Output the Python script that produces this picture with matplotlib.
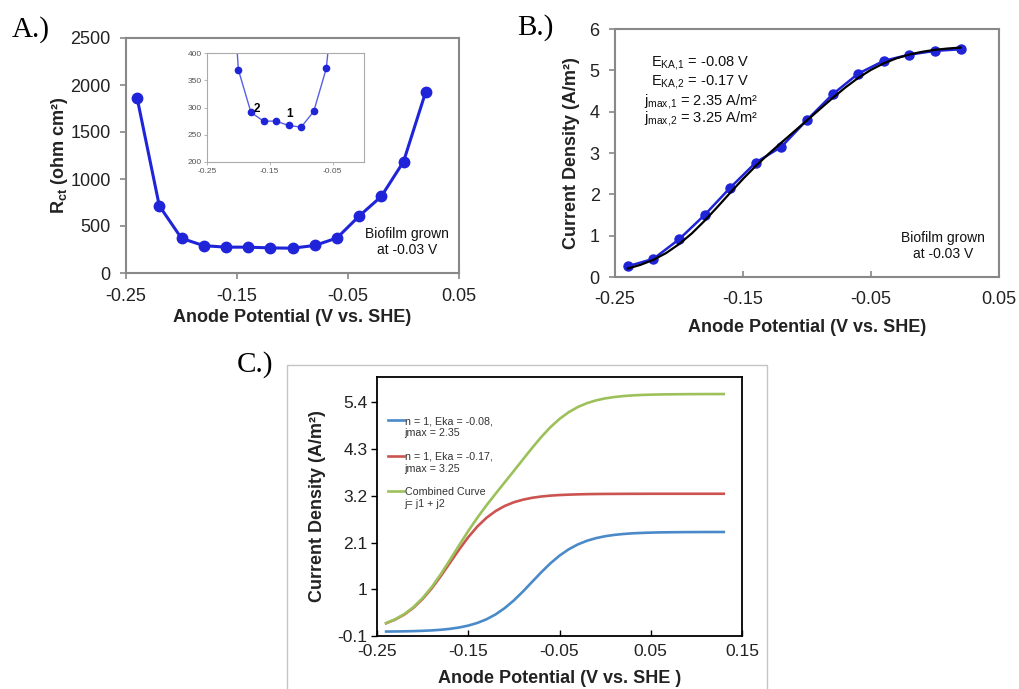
import matplotlib
matplotlib.use('Agg')
import matplotlib.pyplot as plt
from matplotlib.patches import Rectangle

plt.rcParams['font.family'] = ['Liberation Sans', 'DejaVu Sans']
plt.rcParams['mathtext.fontset'] = 'custom'
plt.rcParams['mathtext.rm'] = 'Liberation Sans'
plt.rcParams['mathtext.it'] = 'Liberation Sans:italic'
plt.rcParams['mathtext.bf'] = 'Liberation Sans:bold'

# panel A: charge transfer resistance vs anode potential
pot_a = [-0.24, -0.22, -0.20, -0.18, -0.16, -0.14, -0.12, -0.10, -0.08, -0.06, -0.04, -0.02, 0.00, 0.02]
rct = [1862, 715, 369, 291, 275, 275, 267, 264, 293, 372, 605, 815, 1184, 1927]

# panel B: measured current density and model fit
pot_b = [-0.24, -0.22, -0.20, -0.18, -0.16, -0.14, -0.12, -0.10, -0.08, -0.06, -0.04, -0.02, 0.00, 0.02]
jmeas = [0.26, 0.44, 0.91, 1.50, 2.16, 2.77, 3.15, 3.80, 4.42, 4.92, 5.23, 5.38, 5.47, 5.51]

# panel C: modelled curves
pot_c = [-0.24, -0.23, -0.22, -0.21, -0.20, -0.19, -0.18, -0.17, -0.16, -0.15,
         -0.14, -0.13, -0.12, -0.11, -0.10, -0.09, -0.08, -0.07, -0.06, -0.05,
         -0.04, -0.03, -0.02, -0.01, 0.00, 0.01, 0.02, 0.03, 0.04, 0.05,
         0.06, 0.07, 0.08, 0.09, 0.10, 0.11, 0.12, 0.13]
j1 = [0.005, 0.007, 0.010, 0.015, 0.022, 0.032, 0.047, 0.069, 0.100, 0.145,
      0.208, 0.294, 0.409, 0.558, 0.739, 0.949, 1.175, 1.401, 1.611, 1.792,
      1.941, 2.056, 2.142, 2.205, 2.250, 2.281, 2.303, 2.318, 2.328, 2.335,
      2.340, 2.343, 2.345, 2.347, 2.348, 2.349, 2.349, 2.350]
j2 = [0.200, 0.288, 0.406, 0.566, 0.772, 1.022, 1.313, 1.625, 1.937, 2.228,
      2.479, 2.684, 2.843, 2.963, 3.050, 3.111, 3.155, 3.185, 3.206, 3.220,
      3.229, 3.236, 3.241, 3.244, 3.246, 3.247, 3.248, 3.249, 3.249, 3.250,
      3.250, 3.250, 3.250, 3.250, 3.250, 3.250, 3.250, 3.250]
jsum = [0.205, 0.295, 0.416, 0.581, 0.794, 1.054, 1.360, 1.694, 2.037, 2.373,
        2.687, 2.978, 3.252, 3.521, 3.789, 4.060, 4.330, 4.586, 4.817, 5.012,
        5.170, 5.292, 5.383, 5.449, 5.496, 5.528, 5.551, 5.567, 5.577, 5.584,
        5.589, 5.592, 5.594, 5.596, 5.597, 5.598, 5.598, 5.599]
labels_c = ['n = 1, Eka = -0.08,\njmax = 2.35', 'n = 1, Eka = -0.17,\njmax = 3.25',
            'Combined Curve\nj= j1 + j2']

W, H = 1019, 689
fig = plt.figure(figsize=(W / 100, H / 100), dpi=100)

def box(l, t, r, b):
    return [l / W, (H - b) / H, (r - l) / W, (b - t) / H]

tickc = '#222222'
blue = '#1f24d8'

# ---------- A ----------
ax = fig.add_axes(box(126, 38, 459, 273))
ax.plot(pot_a, rct, '-o', color=blue, lw=2.2, ms=7.5, clip_on=False)
ax.set_xlim(-0.25, 0.05)
ax.set_ylim(0, 2500)
ax.set_xticks([-0.25, -0.15, -0.05, 0.05])
ax.set_xticklabels(['-0.25', '-0.15', '-0.05', '0.05'])
ax.set_yticks(range(0, 2501, 500))
for s in ax.spines.values():
    s.set_color('#888888')
    s.set_linewidth(1.5)
ax.tick_params(direction='out', length=4, width=1.2, color='#888888', labelsize=13,
               labelcolor=tickc, pad=7)
ax.set_xlabel('Anode Potential (V vs. SHE)', fontsize=13, fontweight='bold', color=tickc)
ax.set_ylabel(r'$\mathbf{R}_{\mathbf{ct}}$ (ohm cm²)', fontsize=13, fontweight='bold', color=tickc)
ax.xaxis.set_label_coords(0.5, -0.191)
ax.yaxis.set_label_coords(-0.201, 0.5)
ax.xaxis.label.set_va('center')
ax.yaxis.label.set_va('center')
ax.text(0.003, 331, 'Biofilm grown\nat -0.03 V', ha='center', va='center', fontsize=10,
        color='#111111', linespacing=1.2)

ins = fig.add_axes(box(207, 53, 364, 162))
ins.plot(pot_a, rct, '-', color='#5a5ee6', lw=1.0)
ins.plot(pot_a, rct, 'o', color=blue, ms=4.5)
ins.set_xlim(-0.25, 0.0)
ins.set_ylim(200, 400)
ins.set_xticks([-0.25, -0.15, -0.05])
ins.set_xticklabels(['-0.25', '-0.15', '-0.05'])
ins.set_yticks(range(200, 401, 50))
for s in ins.spines.values():
    s.set_color('#aaaaaa')
    s.set_linewidth(0.8)
ins.tick_params(direction='out', length=2, width=0.6, color='#aaaaaa', labelsize=6,
                labelcolor='#555555', pad=2)
ins.text(-0.17, 297, '2', fontsize=8.5, fontweight='bold', ha='center', va='center')
ins.text(-0.118, 288, '1', fontsize=8.5, fontweight='bold', ha='center', va='center')

# ---------- B ----------
bx = fig.add_axes(box(615, 29, 999, 277))
bx.plot(pot_b, jmeas, '-o', color=blue, lw=1.8, ms=6.5, clip_on=False)
bx.plot(pot_c[:27], jsum[:27], '-', color='black', lw=1.6)
bx.set_xlim(-0.25, 0.05)
bx.set_ylim(0, 6)
bx.set_xticks([-0.25, -0.15, -0.05, 0.05])
bx.set_xticklabels(['-0.25', '-0.15', '-0.05', '0.05'])
bx.set_yticks(range(0, 7))
for s in bx.spines.values():
    s.set_color('#888888')
    s.set_linewidth(1.5)
bx.tick_params(axis='y', direction='out', length=4, width=1.2, color='#888888',
               labelsize=13, labelcolor=tickc, pad=7)
bx.tick_params(axis='x', direction='in', length=4, width=1.2, color='#888888',
               labelsize=13, labelcolor=tickc, pad=10)
bx.set_xlabel('Anode Potential (V vs. SHE)', fontsize=13, fontweight='bold', color=tickc)
bx.set_ylabel('Current Density (A/m²)', fontsize=13, fontweight='bold', color=tickc)
bx.xaxis.set_label_coords(0.5, -0.202)
bx.yaxis.set_label_coords(-0.112, 0.5)
bx.xaxis.label.set_va('center')
bx.yaxis.label.set_va('center')
params = [r'E$_{\mathrm{KA,\!1}}$ = -0.08 V', r'E$_{\mathrm{KA,\!2}}$ = -0.17 V',
          r'j$_{\mathrm{max,\!1}}$ = 2.35 A/m²', r'j$_{\mathrm{max,\!2}}$ = 3.25 A/m²']
for txt, yy in zip(params, [5.17, 4.71, 4.25, 3.84]):
    bx.text(-0.183, yy, txt, ha='center', va='center', fontsize=10.5, color='#111111')
bx.text(0.006, 0.75, 'Biofilm grown\nat -0.03 V', ha='center', va='center', fontsize=10,
        color='#111111', linespacing=1.2)

# ---------- C ----------
fig.patches.append(Rectangle((287 / W, -0.01), 480 / W, (H - 365) / H + 0.01,
                             transform=fig.transFigure, fill=False,
                             edgecolor='#c4c4c4', lw=1.0))
cx = fig.add_axes(box(377, 377, 742, 636))
cols = ['#4a8ac9', '#cc5450', '#9dc15a']
for yv, c, lab in zip([j1, j2, jsum], cols, labels_c):
    cx.plot(pot_c, yv, '-', color=c, lw=1.9, label=lab)
cx.set_xlim(-0.25, 0.15)
cx.set_ylim(-0.1, 6.0)
cx.set_xticks([-0.25, -0.15, -0.05, 0.05, 0.15])
cx.set_xticklabels(['-0.25', '-0.15', '-0.05', '0.05', '0.15'])
cx.set_yticks([-0.1, 1, 2.1, 3.2, 4.3, 5.4])
cx.set_yticklabels(['-0.1', '1', '2.1', '3.2', '4.3', '5.4'])
for s in cx.spines.values():
    s.set_color('black')
    s.set_linewidth(1.3)
cx.tick_params(axis='y', direction='out', length=4, width=1.0, labelsize=12.5,
               labelcolor=tickc, pad=3)
cx.tick_params(axis='x', direction='in', length=4, width=1.0, labelsize=12.5,
               labelcolor=tickc, pad=6)
cx.set_xlabel('Anode Potential (V vs. SHE )', fontsize=13, fontweight='bold', color=tickc)
cx.set_ylabel('Current Density (A/m²)', fontsize=13, fontweight='bold', color=tickc)
cx.xaxis.set_label_coords(0.5, -0.166)
cx.yaxis.set_label_coords(-0.162, 0.5)
cx.xaxis.label.set_va('center')
cx.yaxis.label.set_va('center')
leg = cx.legend(loc='upper left', bbox_to_anchor=(0.02, 0.86), frameon=False, fontsize=7.7,
                handlelength=1.55, handletextpad=0.05, labelspacing=1.3,
                borderaxespad=0.0, borderpad=0.3)
for t in leg.get_texts():
    t.set_color('#333333')
    t.set_linespacing(1.2)
for col in leg._legend_handle_box.get_children():
    for item in col.get_children():
        item.align = 'top'

# panel letters
fig.text(12 / W, (H - 37) / H, 'A.)', family='Liberation Serif', fontsize=21, va='baseline')
fig.text(517 / W, (H - 35) / H, 'B.)', family='Liberation Serif', fontsize=21, va='baseline')
fig.text(237 / W, (H - 372) / H, 'C.)', family='Liberation Serif', fontsize=21, va='baseline')

fig.savefig('out.png', dpi=100)
